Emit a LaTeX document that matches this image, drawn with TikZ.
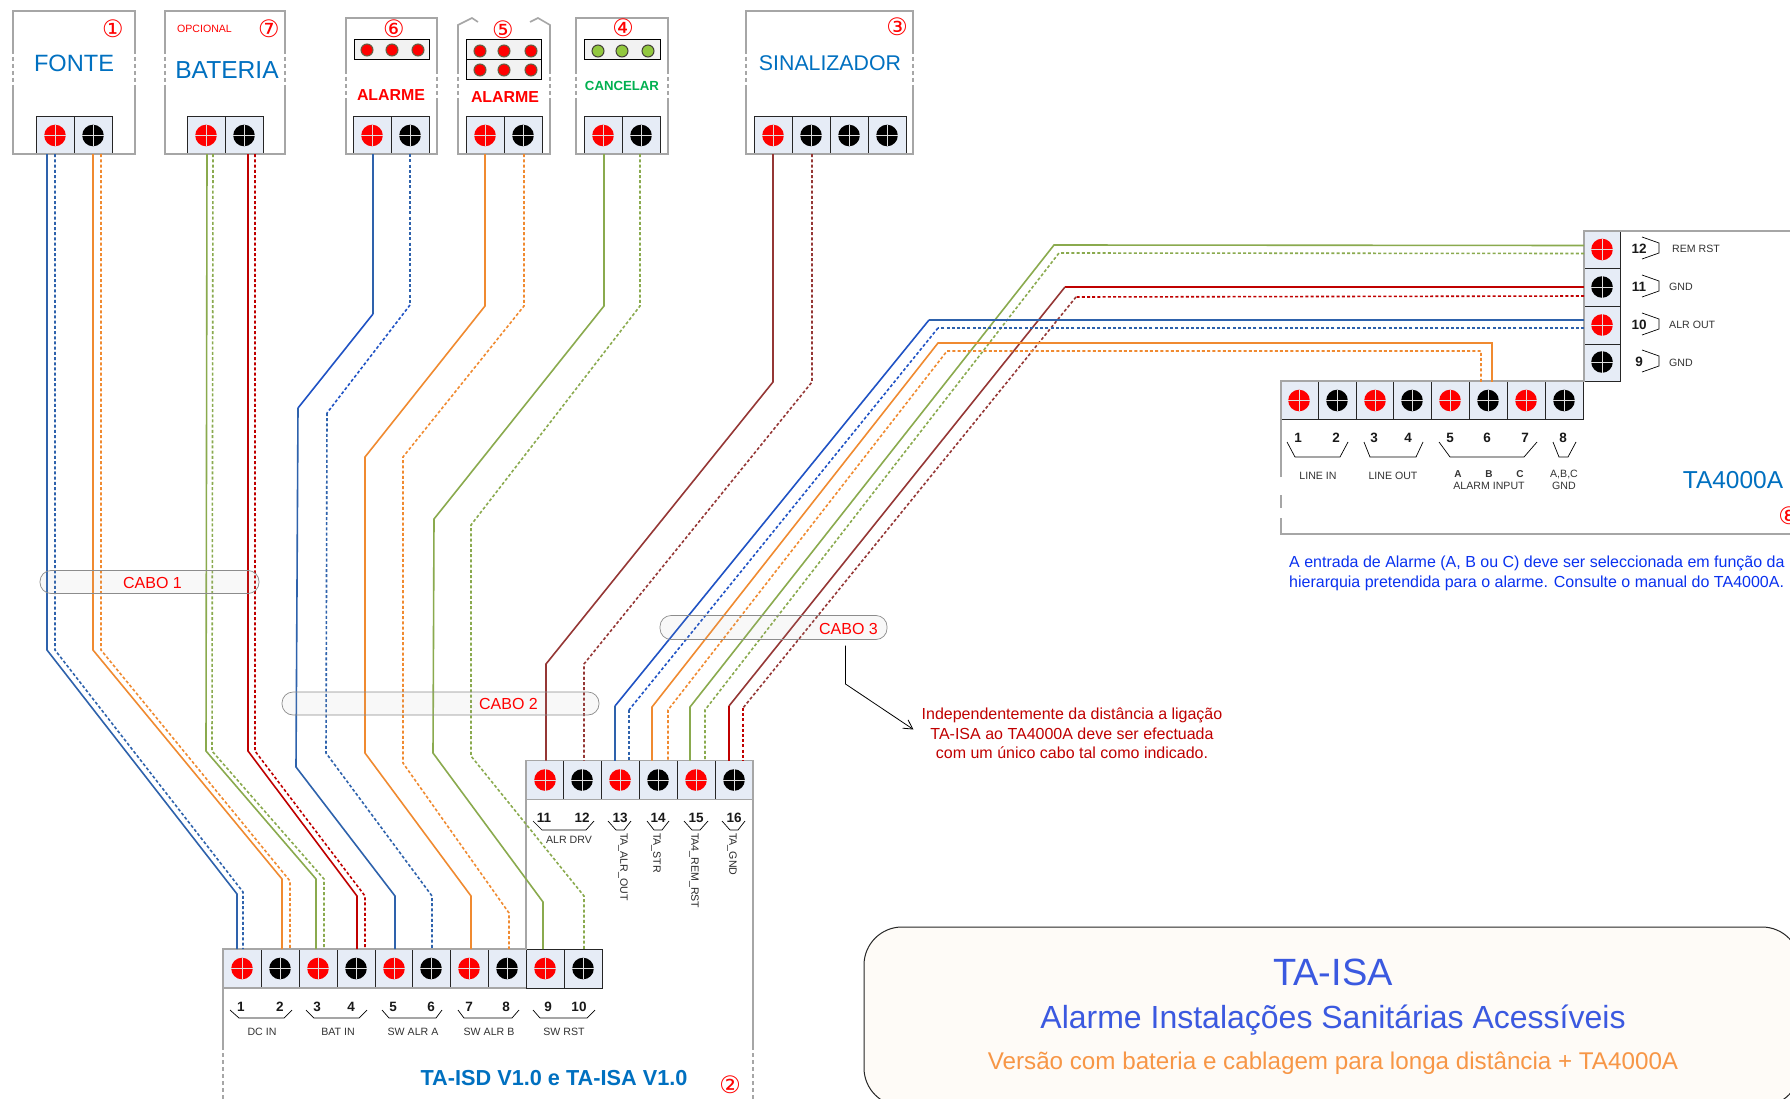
\documentclass[tikz,border=0pt]{standalone}
\usepackage{fontspec}
\setmainfont{Liberation Sans}
\newfontfamily\circfont{DejaVu Sans}
\usetikzlibrary{positioning,arrows.meta}

\newcommand{\fsz}[1]{\fontsize{#1}{19.4}\selectfont}
\newcommand{\screw}[1]{%
  \fill[#1] (path picture bounding box.center) circle (10.8pt);
  \draw[white!75!gray,line width=.9pt]
    ([xshift=-10.8pt]path picture bounding box.center) -- ([xshift=10.8pt]path picture bounding box.center)
    ([yshift=-10.8pt]path picture bounding box.center) -- ([yshift=10.8pt]path picture bounding box.center);}

\definecolor{wblue}{HTML}{2E62AC}
\definecolor{wblue2}{HTML}{1F52C4}
\definecolor{worange}{HTML}{F08A30}
\definecolor{wgreen}{HTML}{8AAA4E}
\definecolor{wred}{HTML}{C00000}
\definecolor{wbrown}{HTML}{953735}
\definecolor{cellblue}{HTML}{E6ECF6}
\definecolor{titleblue}{HTML}{0070C0}
\definecolor{boxgray}{HTML}{A6A6A6}
\definecolor{cancgreen}{HTML}{00B050}
\definecolor{ledgreen}{HTML}{92C83E}

\tikzset{
  cell/.style={draw=black!85,line width=1pt,fill=cellblue,inner sep=0pt,outer sep=0pt,
    minimum width=38pt,minimum height=37.5pt},
  redcell/.style={cell,path picture={\screw{red}}},
  blkcell/.style={cell,path picture={\screw{black}}},
  ledbar/.style={draw=black,line width=1pt,fill=black!5,inner sep=0pt,outer sep=0pt,minimum height=20pt},
  ledred/.style={circle,draw=black!70!yellow,line width=1pt,fill=red,inner sep=0pt,minimum size=12pt},
  ledgrn/.style={circle,draw=black!85!yellow,line width=1pt,fill=ledgreen,inner sep=0pt,minimum size=12pt},
  boxline/.style={draw=boxgray,line width=1.6pt},
  boxdash/.style={draw=boxgray,line width=1.2pt,dash pattern=on 4pt off 3pt},
  wire/.style={line width=1.6pt},
  dwire/.style={line width=1.6pt,dash pattern=on 3pt off 2.2pt},
  bracket/.style={draw=black,line width=.7pt},
  termnum/.style={inner sep=0pt,font=\fsz{13.5}\bfseries,text=black!90},
  termtxt/.style={inner sep=0pt,font=\fsz{10.6},text=black!80},
  vtxt/.style={inner sep=0pt,font=\fsz{10.6},text=black!85,rotate=-90,anchor=west},
  numred/.style={inner sep=0pt,text=red,font=\circfont\fontsize{24}{24}\selectfont},
  devtxt/.style={inner sep=0pt,text=titleblue},
  cabo/.style={draw=black!45,line width=.7pt,fill=black!30,fill opacity=.08,rounded corners=11pt,
    inner sep=0pt,outer sep=0pt},
  cabotxt/.style={inner sep=0pt,text=red,font=\fsz{16}},
}

\begin{document}
\begin{tikzpicture}[x=1pt,y=-1pt]
      \useasboundingbox (0,0) rectangle (1790,1099);
      \clip (0,0) rectangle (1790,1099);
      \fill[white] (0,0) rectangle (1790,1099);

      % FONTE
      \node[redcell]            (fonte1) at (55,135.5) {};
      \node[blkcell]            (fonte2) at (93,135.5) {};
      \draw[boxline]            (13,50) -- (13,11) -- (135,11) -- (135,50);
      \draw[boxline]            (13,85) -- (13,154) -- (135,154) -- (135,85);
      \draw[boxdash]            (13,50) -- (13,85) (135,50) -- (135,85);
      \node[devtxt,font=\fsz{23.6}] (fontet) at (74,63) {FONTE};
      \node[numred]             (n1) at (113,29) {①};

      % BATERIA
      \node[redcell]            (bat1) at (206,135.5) {};
      \node[blkcell]            (bat2) at (244,135.5) {};
      \draw[boxline]            (165,50) -- (165,11) -- (285,11) -- (285,50);
      \draw[boxline]            (165,85) -- (165,154) -- (285,154) -- (285,85);
      \draw[boxdash]            (165,50) -- (165,85) (285,50) -- (285,85);
      \node[devtxt,font=\fsz{24.6}] (batt) at (227,70) {BATERIA};
      \node[inner sep=0pt,text=red,font=\fsz{10.6}] (opc) at (204.5,29) {OPCIONAL};
      \node[numred]             (n7) at (269,29) {⑦};

      % ALARME 6
      \node[redcell]            (alma1) at (372,135.5) {};
      \node[blkcell]            (alma2) at (410,135.5) {};
      \draw[boxline]            (346,70) -- (346,18) -- (437,18) -- (437,70);
      \draw[boxline]            (346,100) -- (346,154) -- (437,154) -- (437,100);
      \draw[boxdash]            (346,70) -- (346,100) (437,70) -- (437,100);
      \node[ledbar,minimum width=75pt] (almabar) at (391.5,50) {};
      \node[ledred]             (alma3) at (367,50) {};
      \node[ledred]             (alma4) at (392,50) {};
      \node[ledred]             (alma5) at (418,50) {};
      \node[inner sep=0pt,text=red,font=\fsz{15.9}\bfseries] (almat) at (391,95) {ALARME};
      \node[numred]             (n6) at (394,29) {⑥};

      % ALARME 5
      \node[redcell]            (almb1) at (485,135.5) {};
      \node[blkcell]            (almb2) at (523,135.5) {};
      \draw[boxline]            (458,70) -- (458,25) -- (472,18) -- (478,22);
      \draw[boxline]            (550,70) -- (550,25) -- (538,18) -- (530,22);
      \draw[boxline]            (458,100) -- (458,154) -- (550,154) -- (550,100);
      \draw[boxdash]            (458,70) -- (458,100) (550,70) -- (550,100);
      \node[ledbar,minimum width=75pt] (almbbar1) at (503.5,50) {};
      \node[ledbar,minimum width=75pt] (almbbar2) at (503.5,69.5) {};
      \node[ledred]             (almb3) at (480,51) {};
      \node[ledred]             (almb4) at (504,51) {};
      \node[ledred]             (almb5) at (531,51) {};
      \node[ledred]             (almb6) at (480,70) {};
      \node[ledred]             (almb7) at (504,70) {};
      \node[ledred]             (almb8) at (531,70) {};
      \node[inner sep=0pt,text=red,font=\fsz{15.9}\bfseries] (almbt) at (505,97) {ALARME};
      \node[numred]             (n5) at (503,30) {⑤};

      % CANCELAR
      \node[redcell]            (canc1) at (603,135.5) {};
      \node[blkcell]            (canc2) at (641,135.5) {};
      \draw[boxline]            (576,70) -- (576,18) -- (668,18) -- (668,70);
      \draw[boxline]            (576,100) -- (576,154) -- (668,154) -- (668,100);
      \draw[boxdash]            (576,70) -- (576,100) (668,70) -- (668,100);
      \node[ledbar,minimum width=76pt] (cancbar) at (622,50) {};
      \node[ledgrn]             (canc3) at (598,51) {};
      \node[ledgrn]             (canc4) at (622,51) {};
      \node[ledgrn]             (canc5) at (648,51) {};
      \node[inner sep=0pt,text=cancgreen,font=\fsz{13.2}\bfseries] (canct) at (622,86) {CANCELAR};
      \node[numred]             (n4) at (623,28) {④};

      % SINALIZADOR
      \node[redcell]            (sin1) at (773,135.5) {};
      \node[blkcell]            (sin2) at (811,135.5) {};
      \node[blkcell]            (sin3) at (849,135.5) {};
      \node[blkcell]            (sin4) at (887,135.5) {};
      \draw[boxline]            (746,50) -- (746,11) -- (913,11) -- (913,50);
      \draw[boxline]            (746,85) -- (746,154) -- (913,154) -- (913,85);
      \draw[boxdash]            (746,50) -- (746,85) (913,50) -- (913,85);
      \node[devtxt,font=\fsz{21.3}] (sint) at (830,63) {SINALIZADOR};
      \node[numred]             (n3) at (897,27) {③};

      % TA-ISD terminals 1-10
      \node[redcell,minimum height=39pt] (isd1) at (242,968.5) {};
      \node[blkcell,minimum height=39pt] (isd2) at (280,968.5) {};
      \node[redcell,minimum height=39pt] (isd3) at (318,968.5) {};
      \node[blkcell,minimum height=39pt] (isd4) at (356,968.5) {};
      \node[redcell,minimum height=39pt] (isd5) at (394,968.5) {};
      \node[blkcell,minimum height=39pt] (isd6) at (431,968.5) {};
      \node[redcell,minimum height=39pt] (isd7) at (469,968.5) {};
      \node[blkcell,minimum height=39pt] (isd8) at (507,968.5) {};
      \node[redcell,minimum height=39pt] (isd9) at (545,968.5) {};
      \node[blkcell,minimum height=39pt] (isd10) at (583,968.5) {};
      \node[termnum] (l1) at (241,1007) {1};
      \node[termnum] (l2) at (280,1007) {2};
      \node[termnum] (l3) at (317,1007) {3};
      \node[termnum] (l4) at (351,1007) {4};
      \node[termnum] (l5) at (393,1007) {5};
      \node[termnum] (l6) at (431,1007) {6};
      \node[termnum] (l7) at (469,1007) {7};
      \node[termnum] (l8) at (506,1007) {8};
      \node[termnum] (l9) at (548,1007) {9};
      \node[termnum] (l10) at (579,1007) {10};
      \draw[bracket] (230,1010) -- (239,1018) -- (284,1018) -- (292,1010);
      \draw[bracket] (306,1010) -- (314,1018) -- (359,1018) -- (367,1010);
      \draw[bracket] (382,1010) -- (389,1018) -- (436,1018) -- (442,1010);
      \draw[bracket] (458,1010) -- (464,1018) -- (512,1018) -- (519,1010);
      \draw[bracket] (533,1010) -- (540,1018) -- (587,1018) -- (595,1010);
      \node[termtxt] (dcin)  at (262,1032) {DC IN};
      \node[termtxt] (batin) at (338,1032) {BAT IN};
      \node[termtxt] (swa)   at (413,1032) {SW ALR A};
      \node[termtxt] (swb)   at (489,1032) {SW ALR B};
      \node[termtxt] (swr)   at (564,1032) {SW RST};

      % TA-ISA terminals 11-16
      \node[redcell,minimum height=39pt] (isa11) at (545,780) {};
      \node[blkcell,minimum height=39pt] (isa12) at (582,780) {};
      \node[redcell,minimum height=39pt] (isa13) at (620,780) {};
      \node[blkcell,minimum height=39pt] (isa14) at (658,780) {};
      \node[redcell,minimum height=39pt] (isa15) at (696,780) {};
      \node[blkcell,minimum height=39pt] (isa16) at (734,780) {};
      \node[termnum] (l11) at (544,818) {11};
      \node[termnum] (l12) at (582,818) {12};
      \node[termnum] (l13) at (620,818) {13};
      \node[termnum] (l14) at (658,818) {14};
      \node[termnum] (l15) at (696,818) {15};
      \node[termnum] (l16) at (734,818) {16};
      \draw[bracket] (533,821) -- (542,830) -- (586,830) -- (594,821);
      \draw[bracket] (608,821) -- (616,830) -- (624,830) -- (631,821);
      \draw[bracket] (647,821) -- (654,830) -- (662,830) -- (669,821);
      \draw[bracket] (684,821) -- (692,830) -- (700,830) -- (708,821);
      \draw[bracket] (722,821) -- (730,830) -- (738,830) -- (745,821);
      \node[termtxt] (alrdrv) at (569,840) {ALR DRV};
      \node[vtxt] (taalr) at (623,833) {TA\_ALR\_OUT};
      \node[vtxt] (tastr) at (656,833) {TA\_STR};
      \node[vtxt] (tarem) at (694,833) {TA4\_REM\_RST};
      \node[vtxt] (tagnd) at (732,833) {TA\_GND};

      % board outline
      \draw[boxline] (223,1046) -- (223,949) -- (526,949) -- (526,760.5) -- (753,760.5) -- (753,1046);
      \draw[boxline] (223,988) -- (526,988);
      \draw[boxline] (526,799.5) -- (753,799.5);
      \draw[boxdash] (223,1046) -- (223,1099) (753,1046) -- (753,1099);
      \node[devtxt,font=\fsz{21.7}\bfseries] (isdt) at (554,1078) {TA-ISD V1.0 e TA-ISA V1.0};
      \node[numred]  (n2) at (730,1085) {②};

      % TA4000A
      \node[redcell] (tab1) at (1299,400.5) {};
      \node[blkcell] (tab2) at (1337,400.5) {};
      \node[redcell] (tab3) at (1375,400.5) {};
      \node[blkcell] (tab4) at (1412,400.5) {};
      \node[redcell] (tab5) at (1450,400.5) {};
      \node[blkcell] (tab6) at (1488,400.5) {};
      \node[redcell] (tab7) at (1526,400.5) {};
      \node[blkcell] (tab8) at (1564,400.5) {};
      \node[blkcell,minimum width=36pt,minimum height=38pt] (tav9)  at (1602,362) {};
      \node[redcell,minimum width=36pt,minimum height=38pt] (tav10) at (1602,325) {};
      \node[blkcell,minimum width=36pt,minimum height=38pt] (tav11) at (1602,287) {};
      \node[redcell,minimum width=36pt,minimum height=38pt] (tav12) at (1602,249.5) {};
      \draw[boxline] (1281,477) -- (1281,381) -- (1584,381) -- (1584,231) -- (1790,231);
      \draw[boxline] (1281,495) -- (1281,508);
      \draw[boxline] (1281,518) -- (1281,534) -- (1790,534);
      \node[termnum] (t1) at (1298,438) {1};
      \node[termnum] (t2) at (1336,438) {2};
      \node[termnum] (t3) at (1374,438) {3};
      \node[termnum] (t4) at (1408,438) {4};
      \node[termnum] (t5) at (1450,438) {5};
      \node[termnum] (t6) at (1487,438) {6};
      \node[termnum] (t7) at (1525,438) {7};
      \node[termnum] (t8) at (1563,438) {8};
      \draw[bracket] (1287,442) -- (1295,457) -- (1340,457) -- (1348,442);
      \draw[bracket] (1364,442) -- (1370,457) -- (1416,457) -- (1423,442);
      \draw[bracket] (1439,442) -- (1450,457) -- (1524,457) -- (1537,442);
      \draw[bracket] (1553,442) -- (1559,457) -- (1568,457) -- (1576,442);
      \node[termtxt] (linein)  at (1318,476) {LINE IN};
      \node[termtxt] (lineout) at (1393,476) {LINE OUT};
      \node[termtxt,font=\fsz{10}\bfseries] (inA) at (1458,474) {A};
      \node[termtxt,font=\fsz{10}\bfseries] (inB) at (1489,474) {B};
      \node[termtxt,font=\fsz{10}\bfseries] (inC) at (1520,474) {C};
      \node[termtxt] (alrin) at (1489,486) {ALARM INPUT};
      \node[termtxt] (abc)   at (1564,474) {A,B,C};
      \node[termtxt] (gnd8)  at (1564,486) {GND};
      \node[termnum] (t12) at (1639,249) {12};
      \node[termnum] (t11) at (1639,287) {11};
      \node[termnum] (t10) at (1639,325) {10};
      \node[termnum] (t9)  at (1639,362) {9};
      \draw[bracket] (1642,237) -- (1659,243) -- (1659,253) -- (1642,259);
      \draw[bracket] (1642,275) -- (1659,281) -- (1659,291) -- (1642,297);
      \draw[bracket] (1642,313) -- (1659,319) -- (1659,329) -- (1642,335);
      \draw[bracket] (1642,350) -- (1659,356) -- (1659,366) -- (1642,372);
      \node[termtxt,anchor=west] (remrst) at (1672,249) {REM RST};
      \node[termtxt,anchor=west] (gnd11)  at (1669,287) {GND};
      \node[termtxt,anchor=west] (alrout) at (1669,325) {ALR OUT};
      \node[termtxt,anchor=west] (gnd9)   at (1669,363) {GND};
      \node[devtxt,font=\fsz{24.5}] (ta4t) at (1733,480) {TA4000A};
      \node[numred] (n8) at (1789,516) {⑧};
      \node[inner sep=0pt,anchor=north west,align=left,text={rgb,255:red,10;green,50;blue,240},font=\fsz{16}]
        (hint) at (1289,556) {A entrada de Alarme (A, B ou C) deve ser seleccionada em função da\\hierarquia pretendida para o alarme. Consulte o manual do TA4000A.};

      % CABO 1
      \draw[wire,wblue]    ([xshift=-8pt]fonte1.south) -- (47,650) -- (237,894) -- ([xshift=-5pt]isd1.north);
      \draw[dwire,wblue]   (fonte1.south) -- (55,650) -- (243,892) -- ([xshift=1pt]isd1.north);
      \draw[wire,worange]  (fonte2.south) -- (93,650) -- (282,879) -- ([xshift=2pt]isd2.north);
      \draw[dwire,worange] ([xshift=8pt]fonte2.south) -- (101,650) -- (290,881) -- ([xshift=10pt]isd2.north);
      \draw[wire,wgreen]   ([xshift=1pt]bat1.south) -- (206,751) -- (316,879) -- ([xshift=-2pt]isd3.north);
      \draw[dwire,wgreen]  ([xshift=7pt]bat1.south) -- (212,751) -- (324,879) -- ([xshift=6pt]isd3.north);
      \draw[wire,wred]     ([xshift=4pt]bat2.south) -- (248,751) -- (357,896) -- ([xshift=1pt]isd4.north);
      \draw[dwire,wred]    ([xshift=11pt]bat2.south) -- (255,751) -- (365,896) -- ([xshift=9pt]isd4.north);

      % CABO 2
      \draw[wire,wblue]    ([xshift=1pt]alma1.south) -- (373,314);
      \draw[wire,wblue2]   (373,314) -- (298,408);
      \draw[wire,wblue]    (298,408) -- (296,767) -- (395,896) -- ([xshift=1pt]isd5.north);
      \draw[dwire,wblue]   (alma2.south) -- (410,305);
      \draw[dwire,wblue2]  (410,305) -- (327,413);
      \draw[dwire,wblue]   (327,413) -- (326,753) -- (432,896) -- ([xshift=1pt]isd6.north);
      \draw[wire,worange]  (almb1.south) -- (485,306) -- (365,457) -- (365,753) -- (471,896) -- ([xshift=2pt]isd7.north);
      \draw[dwire,worange] ([xshift=1pt]almb2.south) -- (524,306) -- (403,457) -- (403,763) -- (509,913) -- ([xshift=2pt]isd8.north);
      \draw[wire,wgreen]   ([xshift=1pt]canc1.south) -- (604,306) -- (434,519) -- (433,753) -- (543,902) -- ([xshift=-2pt]isd9.north);
      \draw[dwire,wgreen]  ([xshift=-1pt]canc2.south) -- (640,306) -- (471,525) -- (471,756) -- (584,896) -- ([xshift=1pt]isd10.north);
      \draw[wire,wbrown]   (sin1.south) -- (773,382) -- (546,664) -- ([xshift=1pt]isa11.north);
      \draw[dwire,wbrown]  ([xshift=1pt]sin2.south) -- (812,382) -- (584,664) -- ([xshift=2pt]isa12.north);

      % CABO 3
      \draw[wire,wgreen]   ([yshift=4pt]tav12.west) -- (1054,245) -- (690,707) -- ([xshift=-6pt]isa15.north);
      \draw[dwire,wgreen]  ([yshift=-4pt]tav12.west) -- (1059,253) -- (705,710) -- ([xshift=9pt]isa15.north);
      \draw[wire,wred]     (tav11.west) -- (1065,287);
      \draw[wire,wbrown]   (1065,287) -- (729,706);
      \draw[wire,wred]     (729,706) -- ([xshift=-5pt]isa16.north);
      \draw[dwire,wred]    ([yshift=-9pt]tav11.west) -- (1076,297);
      \draw[dwire,wbrown]  (1076,297) -- (743,708);
      \draw[dwire,wred]    (743,708) -- ([xshift=9pt]isa16.north);
      \draw[wire,wblue]    ([yshift=5pt]tav10.west) -- (929,320);
      \draw[wire,wblue2]   (929,320) -- (615,706);
      \draw[wire,wblue]    (615,706) -- ([xshift=-5pt]isa13.north);
      \draw[dwire,wblue]   ([yshift=-3pt]tav10.west) -- (938,328);
      \draw[dwire,wblue2]  (938,328) -- (629,710);
      \draw[dwire,wblue]   (629,710) -- ([xshift=9pt]isa13.north);
      \draw[wire,worange]  ([xshift=4pt]tab6.north) -- (1492,343) -- (938,343) -- (652,707) -- ([xshift=-6pt]isa14.north);
      \draw[dwire,worange] ([xshift=-7pt]tab6.north) -- (1481,351) -- (947,351) -- (668,710) -- ([xshift=10pt]isa14.north);

      % cable marks
      \node[cabo,minimum width=219pt,minimum height=23pt] (cabo1) at (149.5,582) {};
      \node[cabo,minimum width=317pt,minimum height=23pt] (cabo2) at (440.5,703.5) {};
      \node[cabo,minimum width=227pt,minimum height=24pt] (cabo3) at (773.5,627.5) {};
      \node[cabotxt] (cabo1t) at (152.5,583) {CABO 1};
      \node[cabotxt] (cabo2t) at (508.5,704) {CABO 2};
      \node[cabotxt] (cabo3t) at (848.5,629) {CABO 3};

      % note
      \node[inner sep=0pt,align=center,text=wred,font=\fsz{16}] (note) at (1072,733.5)
        {Independentemente da distância a ligação\\TA-ISA ao TA4000A deve ser efectuada\\com um único cabo tal como indicado.};
      \coordinate (notebend) at (845.5,684);
      \draw[-{Straight Barb[length=9pt,width=10pt]},line width=.8pt] ([xshift=72pt,yshift=-6pt]cabo3.south) -- (notebend) -- ([xshift=-8pt,yshift=4pt]note.west);

      % title
      \node[draw=black!85,line width=1pt,fill={rgb,255:red,254;green,251;blue,247},rounded corners=38pt,
        minimum width=936pt,minimum height=179pt,inner sep=0pt] (titlebox) at (1332,1016.5) {};
      \node[inner sep=0pt,text={rgb,255:red,59;green,89;blue,224},font=\fsz{38}]   (title1) at (1333,972) {TA-ISA};
      \node[inner sep=0pt,text={rgb,255:red,59;green,89;blue,224},font=\fsz{32}] (title2) at (1333,1020) {Alarme Instalações Sanitárias Acessíveis};
      \node[inner sep=0pt,text={rgb,255:red,247;green,150;blue,70},font=\fsz{24.2}] (title3) at (1333,1063) {Versão com bateria e cablagem para longa distância + TA4000A};
\end{tikzpicture}
\end{document}
